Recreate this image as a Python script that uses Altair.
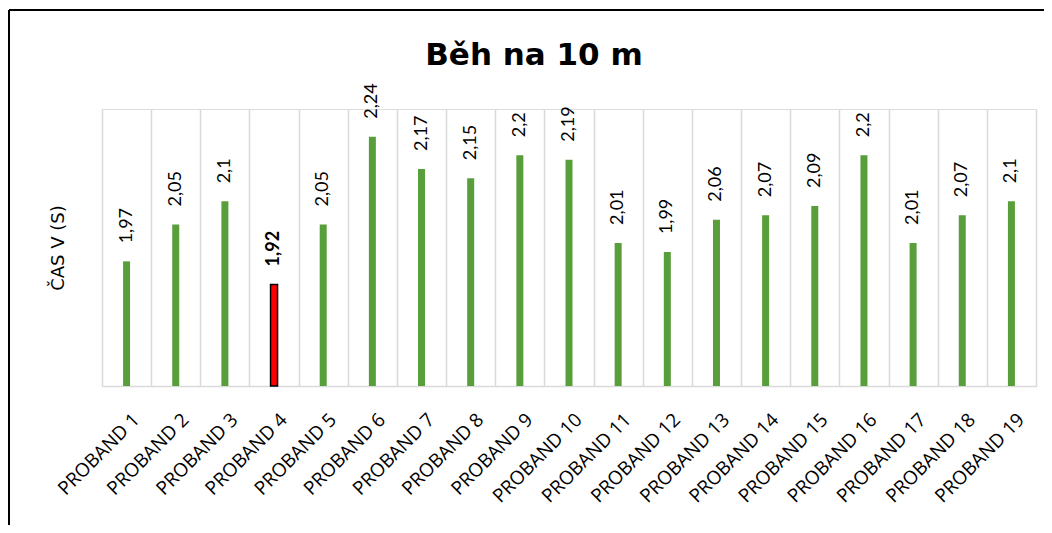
import altair as alt
import pandas as pd

categories = ["PROBAND 1", "PROBAND 2", "PROBAND 3", "PROBAND 4", "PROBAND 5",
              "PROBAND 6", "PROBAND 7", "PROBAND 8", "PROBAND 9", "PROBAND 10",
              "PROBAND 11", "PROBAND 12", "PROBAND 13", "PROBAND 14", "PROBAND 15",
              "PROBAND 16", "PROBAND 17", "PROBAND 18", "PROBAND 19"]
values = [1.97, 2.05, 2.1, 1.92, 2.05, 2.24, 2.17, 2.15, 2.2, 2.19,
          2.01, 1.99, 2.06, 2.07, 2.09, 2.2, 2.01, 2.07, 2.1]
highlight = [False, False, False, True, False, False, False, False, False, False,
             False, False, False, False, False, False, False, False, False]
title_text = "Běh na 10 m"
y_title = "ČAS V (S)"
y_min, y_max = 1.7, 2.3

df = pd.DataFrame({
    "cat": categories,
    "val": values,
    "hl": highlight,
    "label": [str(v).replace(".", ",") for v in values],
})

PW, PH = 934, 277

x_enc = alt.X("cat:N",
              scale=alt.Scale(domain=categories, paddingInner=0, paddingOuter=0),
              axis=alt.Axis(title=None, labelAngle=-45, labelAlign="right", labelBaseline="top",
                            labelFont="Open Sans", labelFontSize=19,
                            labelColor="#000000", labelPadding=24, labelOffset=3,
                            ticks=False, grid=True,
                            tickBand="extent", gridColor="#d9d9d9", gridWidth=1.5,
                            domainColor="#d9d9d9", domainWidth=1.5))
y_enc = alt.Y("val:Q",
              scale=alt.Scale(domain=[y_min, y_max], zero=False, nice=False),
              axis=alt.Axis(title=y_title, labels=False, ticks=False, domain=False, grid=False,
                            titleFont="DejaVu Sans", titleFontSize=18, titleFontWeight="normal",
                            titleColor="#000000", titlePadding=35))

base = alt.Chart(df)

bars = base.transform_filter("!datum.hl").mark_bar(size=7, color="#589E3B").encode(
    x=x_enc, y=y_enc, y2=alt.datum(y_min))
red = base.transform_filter("datum.hl").mark_bar(
    size=7, color="#FF0000", stroke="#000000", strokeWidth=1.5).encode(
    x=x_enc, y=y_enc, y2=alt.datum(y_min))

labels = base.transform_filter("!datum.hl").mark_text(
    angle=270, align="left", baseline="middle", dx=18, font="Lato", fontSize=18,
    color="#000000").encode(x=x_enc, y=y_enc, text="label:N")
labels_b = base.transform_filter("datum.hl").mark_text(
    angle=270, align="left", baseline="middle", dx=18, font="Lato", fontSize=18,
    fontWeight="bold", color="#000000").encode(x=x_enc, y=y_enc, text="label:N")

tdf = pd.DataFrame({"t": [title_text]})
title = alt.Chart(tdf).mark_text(font="DejaVu Sans", fontSize=31, fontWeight="bold",
                                 align="center", baseline="alphabetic", color="#000000").encode(
    x=alt.value(432), y=alt.value(-44), text="t:N")

border_left = alt.Chart(tdf).mark_rule(color="#000000", strokeWidth=2).encode(
    x=alt.value(-93), y=alt.value(-99), y2=alt.value(500))
border_top = alt.Chart(tdf).mark_rule(color="#000000", strokeWidth=2).encode(
    x=alt.value(-93), x2=alt.value(1000), y=alt.value(-99))

chart = alt.layer(bars, red, labels, labels_b, title, border_left, border_top).properties(
    width=PW, height=PH,
    autosize=alt.AutoSizeParams(type="none"),
    padding={"left": 94, "top": 101, "right": 8, "bottom": 139},
).configure_view(stroke=None).configure(background="white")

chart.save("out.html", embed_options={"renderer": "svg", "actions": False})
